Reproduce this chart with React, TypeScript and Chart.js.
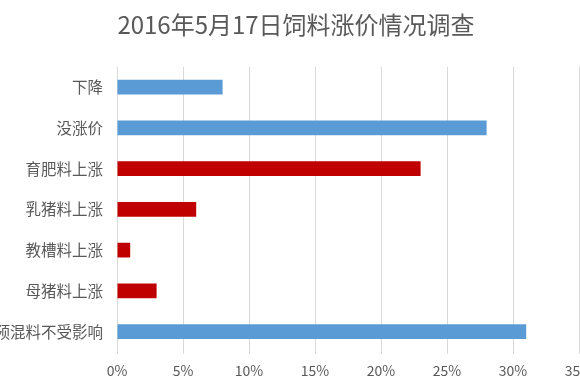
import React, { useEffect, useRef } from "react";
import { Chart, registerables } from "chart.js";

Chart.register(...registerables);

const TITLE = "2016年5月17日饲料涨价情况调查";
const categories = ["下降", "没涨价", "育肥料上涨", "乳猪料上涨", "教槽料上涨", "母猪料上涨", "预混料不受影响"];
const percentValues = [8, 28, 23, 6, 1, 3, 31];
const axisMax = 35;
const axisStep = 5;
const groupOfCategory = ["other", "other", "rise", "rise", "rise", "rise", "other"];

const BLUE = "#5B9BD5";
const RED = "#C00000";
const TEXT = "#595959";
const GRID = "#D9D9D9";
const FONT = '"Noto Sans CJK SC", "Noto Sans", sans-serif';

export default function App() {
  const ref = useRef<HTMLCanvasElement | null>(null);

  useEffect(() => {
    if (!ref.current) return;
    const chart = new Chart(ref.current, {
      type: "bar",
      data: {
        labels: categories,
        datasets: [
          {
            data: percentValues,
            backgroundColor: groupOfCategory.map((g) => (g === "rise" ? RED : BLUE)),
            barPercentage: 0.36,
            categoryPercentage: 1,
            yAxisID: "y",
          },
        ],
      },
      options: {
        indexAxis: "y",
        animation: false,
        responsive: true,
        maintainAspectRatio: false,
        layout: { padding: 0 },
        plugins: {
          legend: { display: false },
          tooltip: { enabled: false },
          title: {
            display: true,
            text: TITLE,
            color: TEXT,
            font: { family: FONT, size: 24, weight: "normal" },
            padding: { top: 10, bottom: 28 },
          },
        },
        scales: {
          x: {
            min: 0,
            max: axisMax,
            ticks: {
              stepSize: axisStep,
              color: TEXT,
              font: { family: FONT, size: 14 },
              padding: 8,
              callback: (v: any) => v + "%",
            },
            grid: { color: GRID, lineWidth: 1, drawTicks: true, tickLength: 2 },
            border: { display: false },
            afterFit: (s: any) => {
              s.height = 30;
              s.paddingRight = 0;
            },
          },
          y: {
            position: "left",
            ticks: {
              color: TEXT,
              font: { family: FONT, size: 15.5 },
              padding: 14,
            },
            grid: { display: false, drawTicks: false },
            border: { display: false },
            afterFit: (s: any) => {
              s.width = 123;
            },
          },
          yRight: {
            type: "category",
            position: "right",
            ticks: { display: false },
            grid: { display: false, drawTicks: false },
            border: { display: false },
            afterFit: (s: any) => {
              s.width = 19;
            },
          },
        },
      },
    });
    return () => chart.destroy();
  }, []);

  return (
    <div style={{ position: "fixed", left: 0, top: 0, width: 580, height: 378, overflow: "hidden", background: "#fff" }}>
      <div style={{ position: "absolute", left: -6, top: 0, width: 604, height: 382 }}>
        <canvas ref={ref} />
      </div>
    </div>
  );
}
